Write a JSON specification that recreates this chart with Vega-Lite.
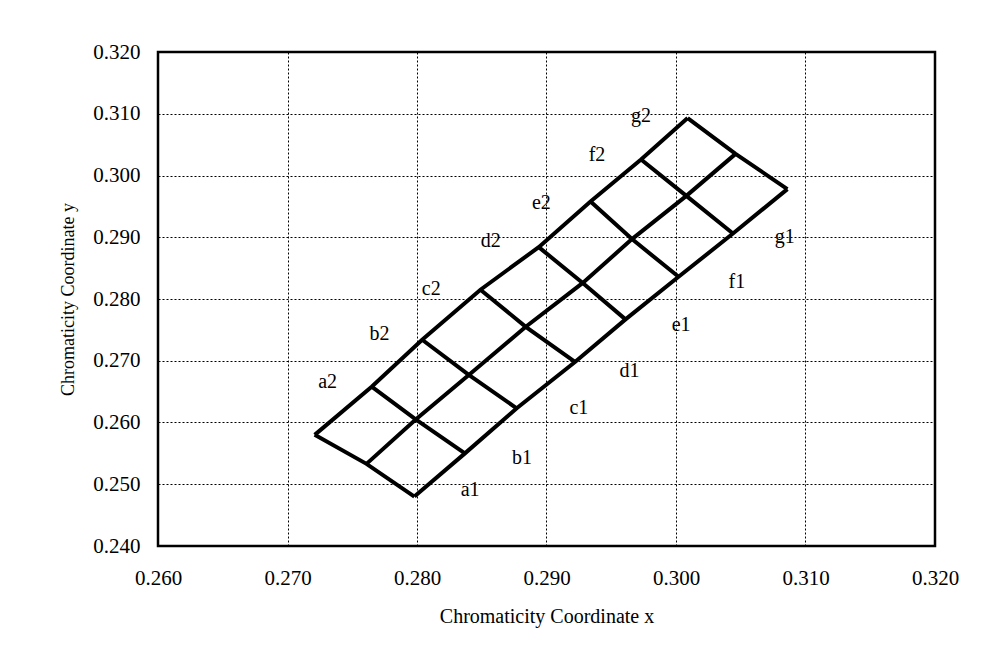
{
  "$schema": "https://vega.github.io/schema/vega-lite/v6.json",
  "width": 777,
  "height": 494,
  "autosize": {"type": "none"},
  "padding": {"left": 158, "top": 52, "right": 64, "bottom": 115},
  "background": "white",
  "config": {
    "font": "Liberation Serif",
    "view": {"stroke": "black", "strokeWidth": 2.5},
    "axis": {
      "labelFont": "Liberation Serif",
      "titleFont": "Liberation Serif",
      "labelFontSize": 21,
      "titleFontSize": 20,
      "titleFontWeight": "normal",
      "labelColor": "black",
      "titleColor": "black",
      "labelFlush": false,
      "labelOverlap": false,
      "ticks": false,
      "domain": false,
      "gridColor": "black",
      "gridDash": [2, 2],
      "gridWidth": 1,
      "gridOpacity": 1
    }
  },
  "datasets": {
    "lines": [
      {"g": "bottom", "o": 0, "x": 0.2798, "y": 0.2480},
      {"g": "bottom", "o": 1, "x": 0.2837, "y": 0.2550},
      {"g": "bottom", "o": 2, "x": 0.2877, "y": 0.2623},
      {"g": "bottom", "o": 3, "x": 0.2922, "y": 0.2698},
      {"g": "bottom", "o": 4, "x": 0.2961, "y": 0.2767},
      {"g": "bottom", "o": 5, "x": 0.3002, "y": 0.2836},
      {"g": "bottom", "o": 6, "x": 0.3044, "y": 0.2906},
      {"g": "bottom", "o": 7, "x": 0.3086, "y": 0.2978},
      {"g": "middle", "o": 0, "x": 0.2761, "y": 0.2533},
      {"g": "middle", "o": 1, "x": 0.2799, "y": 0.2605},
      {"g": "middle", "o": 2, "x": 0.2840, "y": 0.2677},
      {"g": "middle", "o": 3, "x": 0.2884, "y": 0.2755},
      {"g": "middle", "o": 4, "x": 0.2928, "y": 0.2826},
      {"g": "middle", "o": 5, "x": 0.2966, "y": 0.2897},
      {"g": "middle", "o": 6, "x": 0.3008, "y": 0.2967},
      {"g": "middle", "o": 7, "x": 0.3046, "y": 0.3035},
      {"g": "top", "o": 0, "x": 0.2721, "y": 0.2580},
      {"g": "top", "o": 1, "x": 0.2765, "y": 0.2658},
      {"g": "top", "o": 2, "x": 0.2804, "y": 0.2734},
      {"g": "top", "o": 3, "x": 0.2849, "y": 0.2815},
      {"g": "top", "o": 4, "x": 0.2894, "y": 0.2884},
      {"g": "top", "o": 5, "x": 0.2934, "y": 0.2958},
      {"g": "top", "o": 6, "x": 0.2973, "y": 0.3026},
      {"g": "top", "o": 7, "x": 0.3009, "y": 0.3093},
      {"g": "c0", "o": 0, "x": 0.2798, "y": 0.2480},
      {"g": "c0", "o": 1, "x": 0.2761, "y": 0.2533},
      {"g": "c0", "o": 2, "x": 0.2721, "y": 0.2580},
      {"g": "c1", "o": 0, "x": 0.2837, "y": 0.2550},
      {"g": "c1", "o": 1, "x": 0.2799, "y": 0.2605},
      {"g": "c1", "o": 2, "x": 0.2765, "y": 0.2658},
      {"g": "c2", "o": 0, "x": 0.2877, "y": 0.2623},
      {"g": "c2", "o": 1, "x": 0.2840, "y": 0.2677},
      {"g": "c2", "o": 2, "x": 0.2804, "y": 0.2734},
      {"g": "c3", "o": 0, "x": 0.2922, "y": 0.2698},
      {"g": "c3", "o": 1, "x": 0.2884, "y": 0.2755},
      {"g": "c3", "o": 2, "x": 0.2849, "y": 0.2815},
      {"g": "c4", "o": 0, "x": 0.2961, "y": 0.2767},
      {"g": "c4", "o": 1, "x": 0.2928, "y": 0.2826},
      {"g": "c4", "o": 2, "x": 0.2894, "y": 0.2884},
      {"g": "c5", "o": 0, "x": 0.3002, "y": 0.2836},
      {"g": "c5", "o": 1, "x": 0.2966, "y": 0.2897},
      {"g": "c5", "o": 2, "x": 0.2934, "y": 0.2958},
      {"g": "c6", "o": 0, "x": 0.3044, "y": 0.2906},
      {"g": "c6", "o": 1, "x": 0.3008, "y": 0.2967},
      {"g": "c6", "o": 2, "x": 0.2973, "y": 0.3026},
      {"g": "c7", "o": 0, "x": 0.3086, "y": 0.2978},
      {"g": "c7", "o": 1, "x": 0.3046, "y": 0.3035},
      {"g": "c7", "o": 2, "x": 0.3009, "y": 0.3093}
    ],
    "labels": [
      {"label": "a1", "x": 0.2841, "y": 0.2491},
      {"label": "b1", "x": 0.2881, "y": 0.2542},
      {"label": "c1", "x": 0.2925, "y": 0.2623},
      {"label": "d1", "x": 0.2964, "y": 0.2683},
      {"label": "e1", "x": 0.3004, "y": 0.2758},
      {"label": "f1", "x": 0.3047, "y": 0.2827},
      {"label": "g1", "x": 0.3084, "y": 0.2901},
      {"label": "a2", "x": 0.2731, "y": 0.2665},
      {"label": "b2", "x": 0.2771, "y": 0.2743},
      {"label": "c2", "x": 0.2811, "y": 0.2816},
      {"label": "d2", "x": 0.2857, "y": 0.2894},
      {"label": "e2", "x": 0.2896, "y": 0.2956},
      {"label": "f2", "x": 0.2939, "y": 0.3033},
      {"label": "g2", "x": 0.2973, "y": 0.3096}
    ]
  },
  "layer": [
    {
      "data": {"name": "lines"},
      "mark": {"type": "line", "color": "black", "strokeWidth": 4, "strokeJoin": "miter"},
      "encoding": {
        "x": {
          "field": "x", "type": "quantitative",
          "scale": {"domain": [0.26, 0.32], "nice": false, "zero": false},
          "axis": {"values": [0.26, 0.27, 0.28, 0.29, 0.30, 0.31, 0.32], "format": ".3f", "title": "Chromaticity Coordinate x", "labelPadding": 21, "titlePadding": 18}
        },
        "y": {
          "field": "y", "type": "quantitative",
          "scale": {"domain": [0.24, 0.32], "nice": false, "zero": false},
          "axis": {"values": [0.24, 0.25, 0.26, 0.27, 0.28, 0.29, 0.30, 0.31, 0.32], "format": ".3f", "title": "Chromaticity Coordinate y", "titleFontSize": 18, "labelPadding": 18, "titlePadding": 15}
        },
        "detail": {"field": "g"},
        "order": {"field": "o", "type": "quantitative"}
      }
    },
    {
      "data": {"name": "labels"},
      "mark": {"type": "text", "font": "Liberation Serif", "fontSize": 20, "color": "black"},
      "encoding": {
        "x": {"field": "x", "type": "quantitative"},
        "y": {"field": "y", "type": "quantitative"},
        "text": {"field": "label"}
      }
    }
  ]
}
